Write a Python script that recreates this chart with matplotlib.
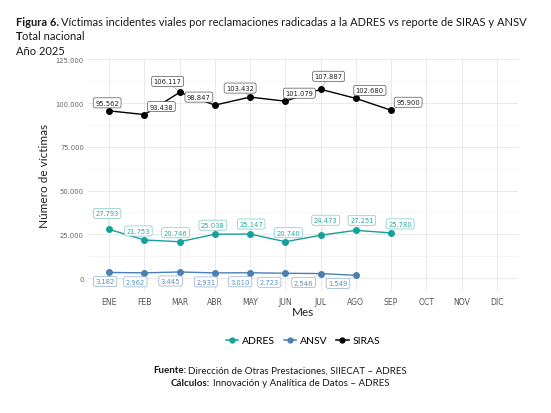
import matplotlib
matplotlib.use('Agg')
import matplotlib.pyplot as plt
from matplotlib.lines import Line2D

# datos
meses = ['ENE', 'FEB', 'MAR', 'ABR', 'MAY', 'JUN', 'JUL', 'AGO', 'SEP', 'OCT', 'NOV', 'DIC']
siras = [95562, 93438, 106117, 98847, 103432, 101079, 107887, 102680, 95900]
adres = [27793, 21753, 20746, 25038, 25147, 20740, 24473, 27251, 25780]
ansv = [3182, 2962, 3445, 2931, 3010, 2723, 2546, 1549]

# desplazamiento de las etiquetas en pixeles (tipo ggrepel)
off_siras = [(-2, 8), (17, 8), (-12, 11), (-16, 8), (-10, 9), (14, 8), (8, 13), (14, 8), (17, 8)]
off_adres = [(-2, 16), (-6, 9), (-4, 9), (-2, 9), (1, 10), (3, 9), (5, 15), (6, 10), (9, 9)]
off_ansv = [(-4, -9), (-9, -9), (-9, -9), (-9, -9), (-10, -9), (-16, -9), (-17, -9), (-18, -8)]

C_ADRES = '#16A09C'
C_ANSV = '#4A80B3'
C_SIRAS = '#000000'

FS = 'Lato'
W, H = 551, 414

def fmt(v):
    return f'{v:,}'.replace(',', '.')

fig = plt.figure(figsize=(W / 100, H / 100), dpi=100)
fig.patch.set_facecolor('white')

# panel
ax = fig.add_axes([88 / W, 1 - 292 / H, 430 / W, 232 / H])
ax.set_xlim(-0.6, 11.6)
ax.set_ylim(-7420, 125200)
for s in ax.spines.values():
    s.set_visible(False)

ax.set_xticks(range(len(meses)))
ax.set_xticklabels(meses)
yt = [0, 25000, 50000, 75000, 100000, 125000]
ax.set_yticks(yt)
ax.set_yticklabels([fmt(v) for v in yt])
ax.set_yticks([12500, 37500, 62500, 87500, 112500], minor=True)
ax.tick_params(axis='both', which='both', length=0)
ax.tick_params(axis='x', labelsize=5.6, colors='#555555', pad=4)
ax.tick_params(axis='y', labelsize=4.9, colors='#666666', pad=3)
ax.grid(True, which='major', color='#E6E6E6', lw=0.6)
ax.grid(True, which='minor', axis='y', color='#F0F0F0', lw=0.4)
ax.set_axisbelow(True)

ax.set_ylabel('Número de víctimas', fontsize=8.5, family=FS, color='#222222')
ax.yaxis.set_label_coords(-0.088, 0.5)
ax.set_xlabel('Mes', fontsize=8.5, family=FS, color='#222222')
ax.xaxis.set_label_coords(0.5, -0.065)


def serie(vals, offs, color, txtcolor, edgecolor):
    x = list(range(len(vals)))
    ax.plot(x, vals, color=color, lw=1.0, marker='o', ms=4, zorder=3)
    for xi, v, (dx, dy) in zip(x, vals, offs):
        ax.annotate(fmt(v), (xi, v), xytext=(dx, dy), textcoords='offset pixels',
                    ha='center', va='center', fontsize=4.9, color=txtcolor,
                    bbox=dict(boxstyle='round,pad=0.3,rounding_size=0.3', fc='white',
                              ec=edgecolor, lw=0.5),
                    arrowprops=dict(arrowstyle='-', color=edgecolor, lw=0.4,
                                    shrinkA=0, shrinkB=2, alpha=0.6),
                    zorder=4, annotation_clip=False)


serie(siras, off_siras, C_SIRAS, '#222222', '#555555')
serie(adres, off_adres, C_ADRES, '#2BA8A4', '#7CC9C6')
serie(ansv, off_ansv, C_ANSV, '#5B8DBA', '#8DB0D0')

# leyenda
handles = [Line2D([], [], color=c, marker='o', ms=3.5, lw=1.1) for c in (C_ADRES, C_ANSV, C_SIRAS)]
fig.legend(handles, ['ADRES', 'ANSV', 'SIRAS'], loc='center', ncol=3,
           bbox_to_anchor=(303 / W, 1 - 341.5 / H), frameon=False,
           prop={'family': FS, 'size': 7.5}, handlelength=1.2, handletextpad=0.4,
           columnspacing=0.8)

renderer = fig.canvas.get_renderer()


def mixto(x, y, partes, size, ha='left'):
    # partes: lista de (texto, peso)
    gap = size * 100 / 72 * 0.25
    objs = []
    anchos = []
    for txt, peso in partes:
        t = fig.text(0, 1 - y / H, txt, fontsize=size, family=FS, weight=peso,
                     color='#1a1a1a', va='center', ha='left')
        objs.append(t)
        anchos.append(t.get_window_extent(renderer).width)
    total = sum(anchos) + gap * (len(partes) - 1)
    x0 = x - total / 2 if ha == 'center' else x
    for t, w, (txt, peso) in zip(objs, anchos, partes):
        t.set_x(x0 / W)
        x0 += w + gap


# titulo
TS = 8.0
mixto(15.5, 23, [('Figura 6.', 'bold'),
                 ('Víctimas incidentes viales por reclamaciones radicadas a la ADRES vs reporte de SIRAS y ANSV', 'normal')], TS)
t1 = fig.text(15.5 / W, 1 - 37 / H, 'T', fontsize=TS, family=FS, weight='bold', color='#1a1a1a', va='center')
wT = t1.get_window_extent(renderer).width
fig.text((15.5 + wT) / W, 1 - 37 / H, 'otal nacional', fontsize=TS, family=FS, color='#1a1a1a', va='center')
fig.text(15.5 / W, 1 - 51.5 / H, 'Año 2025', fontsize=TS, family=FS, color='#1a1a1a', va='center')

# fuente
mixto(280, 371, [('Fuente:', 'bold'), ('Dirección de Otras Prestaciones, SIIECAT – ADRES', 'normal')], 7.0, ha='center')
mixto(280, 383.5, [('Cálculos:', 'bold'), ('Innovación y Analítica de Datos – ADRES', 'normal')], 7.0, ha='center')

fig.savefig('out.png', dpi=100)
